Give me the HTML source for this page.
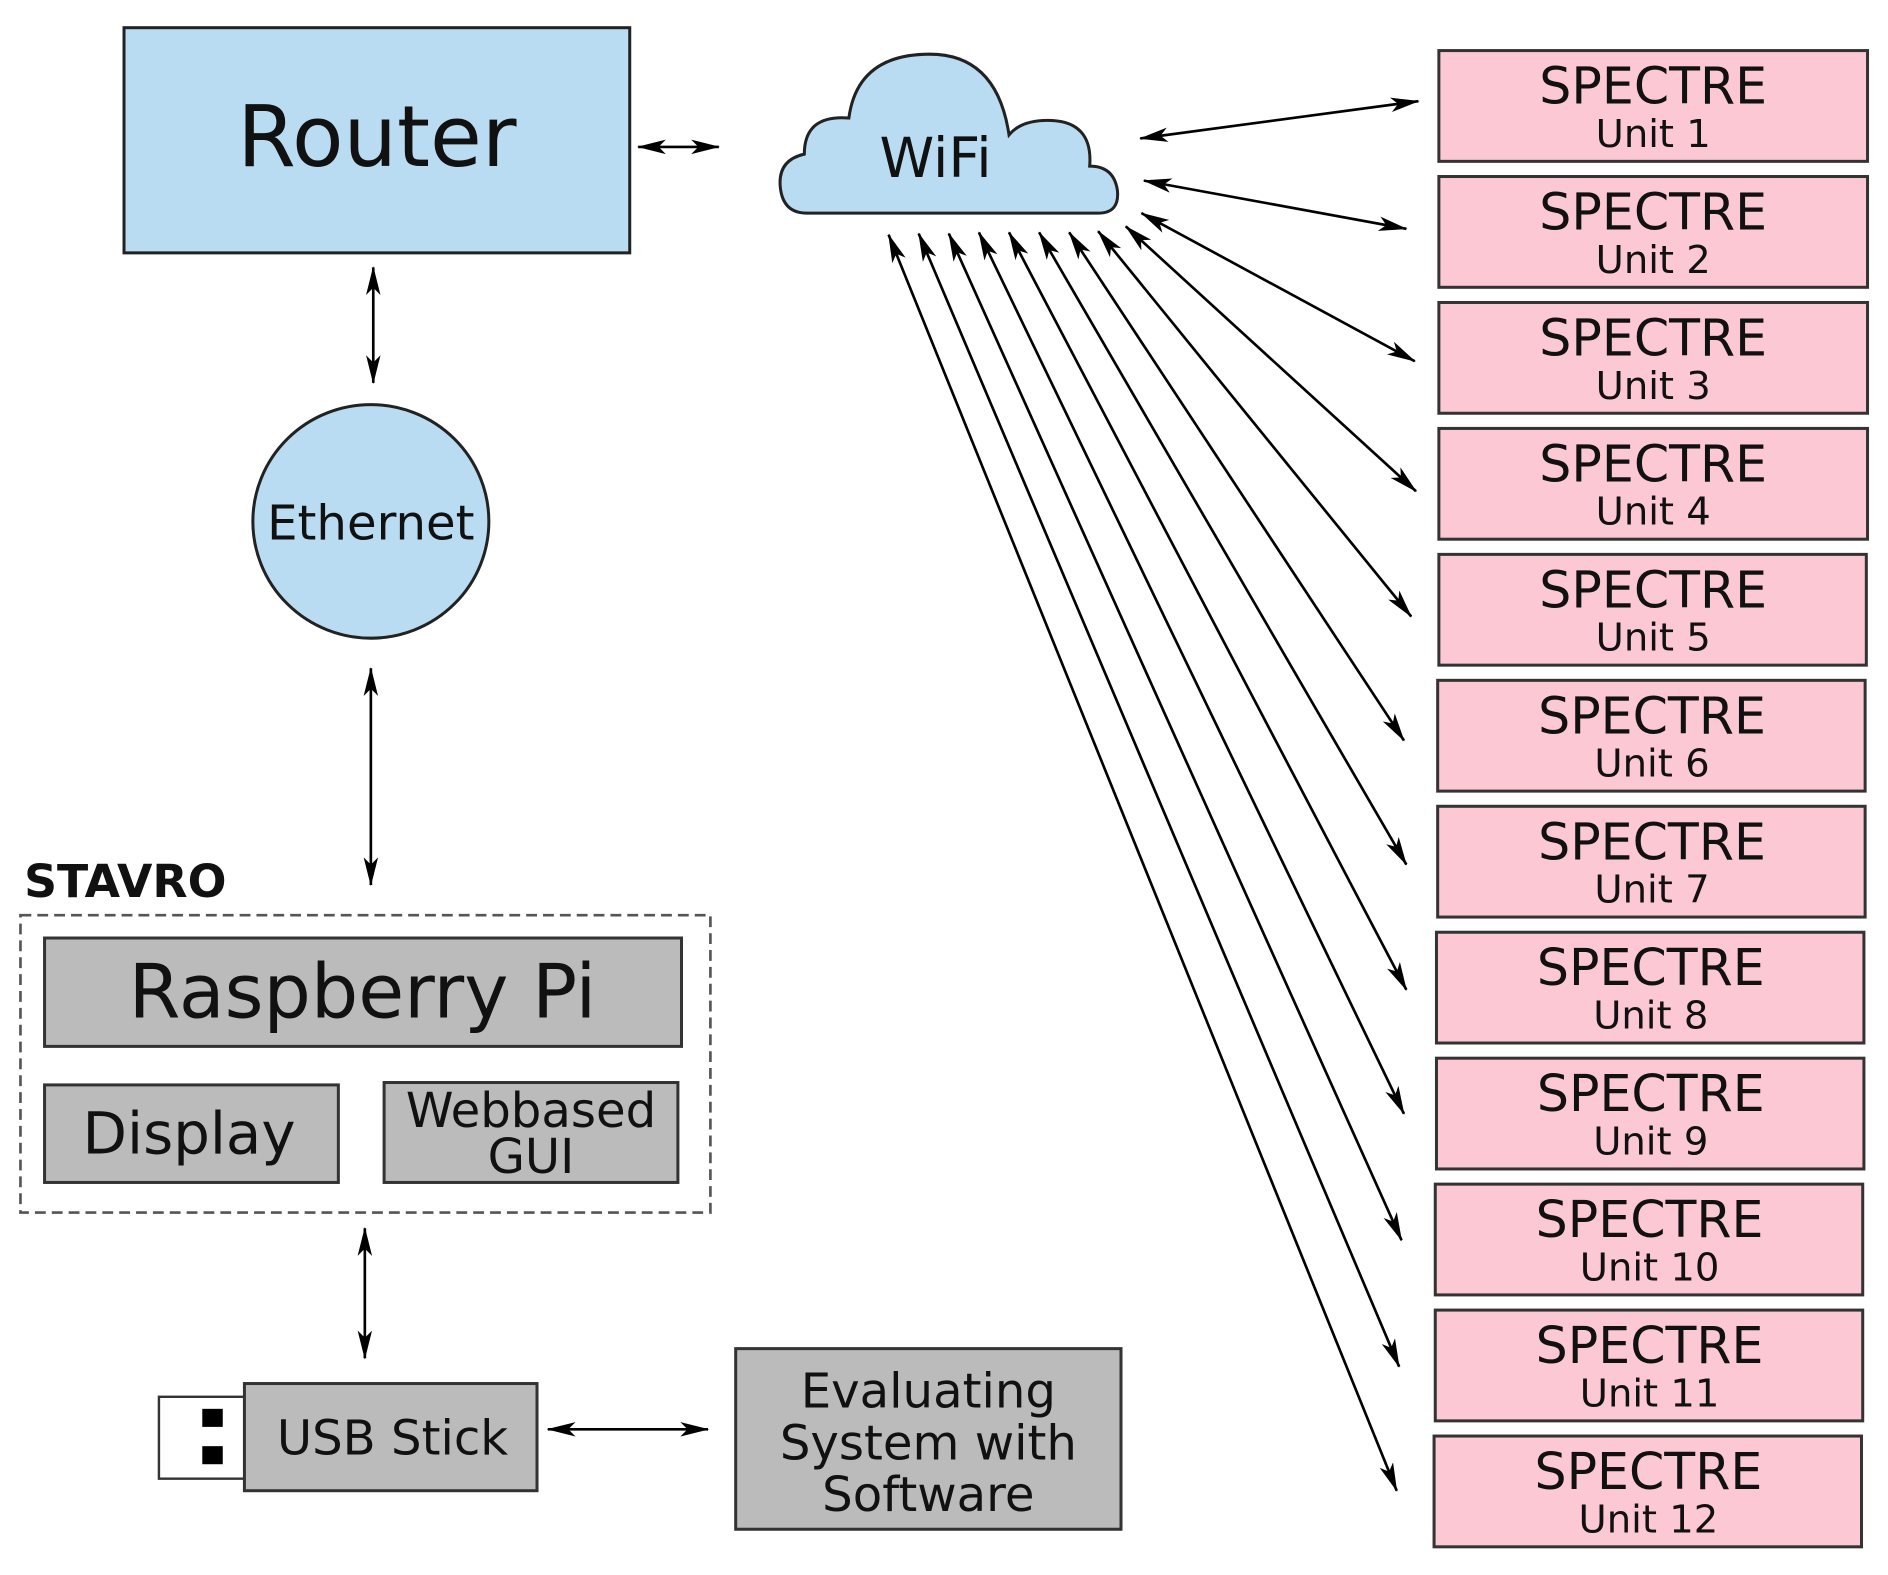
<!DOCTYPE html>
<html><head><meta charset="utf-8"><style>
html,body{margin:0;padding:0;background:#fff;}
svg{display:block;}
text{font-family:"DejaVu Sans","Liberation Sans",sans-serif;fill:#111;}
</style></head><body>
<svg width="1888" height="1575" viewBox="0 0 1568 1308" preserveAspectRatio="none" xmlns="http://www.w3.org/2000/svg">
<defs>
<marker id="a" viewBox="0 0 24 12" refX="23" refY="6" markerWidth="24" markerHeight="12" markerUnits="userSpaceOnUse" orient="auto-start-reverse">
<path d="M0,0 L24,6 L0,12 L6,6 Z" fill="#000"/>
</marker>
</defs>
<g stroke="#000" stroke-width="2.2" fill="none" marker-start="url(#a)" marker-end="url(#a)">
<line x1="530" y1="122" x2="597" y2="122"/>
<line x1="310" y1="222" x2="310" y2="318"/>
<line x1="308" y1="555" x2="308" y2="735"/>
<line x1="303" y1="1020" x2="303" y2="1128"/>
<line x1="455" y1="1187" x2="588" y2="1187"/>
<line x1="947" y1="115" x2="1178" y2="84"/>
<line x1="950" y1="150" x2="1168" y2="190"/>
<line x1="948" y1="177" x2="1175" y2="300"/>
<line x1="935" y1="188" x2="1176" y2="408"/>
<line x1="912" y1="192" x2="1172" y2="512"/>
<line x1="888" y1="193" x2="1166" y2="615"/>
<line x1="863" y1="193" x2="1168" y2="718"/>
<line x1="838" y1="193" x2="1168" y2="822"/>
<line x1="813" y1="193" x2="1166" y2="925"/>
<line x1="788" y1="194" x2="1164" y2="1030"/>
<line x1="763" y1="194" x2="1162" y2="1135"/>
<line x1="738" y1="195" x2="1160" y2="1238"/>
</g>
<rect x="103" y="23" width="420" height="187" fill="#b9dcf2" stroke="#222" stroke-width="2.5"/>
<text x="313" y="138" font-size="70" text-anchor="middle">Router</text>
<path d="M670,177 L912,177 Q930,177 928,158 Q925,138 905,138 Q908,100 870,100 Q848,100 838,112 Q828,45 772,45 Q712,45 705,98 Q668,95 668,128 Q646,133 648,155 Q650,177 670,177 Z" fill="#b9dcf2" stroke="#222" stroke-width="2.5"/>
<text x="777" y="147" font-size="46" text-anchor="middle">WiFi</text>
<ellipse cx="308" cy="433" rx="98" ry="97" fill="#b9dcf2" stroke="#222" stroke-width="2.5"/>
<text x="308" y="448" font-size="40" text-anchor="middle">Ethernet</text>
<text x="20" y="745" font-size="38" font-weight="bold">STAVRO</text>
<rect x="17" y="760" width="573" height="247" fill="none" stroke="#555" stroke-width="2.2" stroke-dasharray="9,5"/>
<rect x="37" y="779" width="529" height="90" fill="#bbb" stroke="#333" stroke-width="2.5"/>
<text x="301" y="845" font-size="62" text-anchor="middle">Raspberry Pi</text>
<rect x="37" y="901" width="244" height="81" fill="#bbb" stroke="#333" stroke-width="2.5"/>
<text x="157" y="958" font-size="48" text-anchor="middle">Display</text>
<rect x="319" y="899" width="244" height="83" fill="#bbb" stroke="#333" stroke-width="2.5"/>
<text x="441" y="936" font-size="40" text-anchor="middle">Webbased</text>
<text x="441" y="974" font-size="40" text-anchor="middle">GUI</text>
<rect x="132" y="1160" width="73" height="68" fill="#fff" stroke="#333" stroke-width="2"/>
<rect x="168" y="1170" width="17" height="15" fill="#000"/>
<rect x="168" y="1201" width="17" height="15" fill="#000"/>
<rect x="203" y="1149" width="243" height="89" fill="#bbb" stroke="#333" stroke-width="2.5"/>
<text x="326" y="1208" font-size="40" text-anchor="middle">USB Stick</text>
<rect x="611" y="1120" width="320" height="150" fill="#bbb" stroke="#333" stroke-width="2.5"/>
<text x="771" y="1169" font-size="40" text-anchor="middle">Evaluating</text>
<text x="771" y="1212" font-size="40" text-anchor="middle">System with</text>
<text x="771" y="1255" font-size="40" text-anchor="middle">Software</text>
<g font-size="42" text-anchor="middle">
<rect x="1195" y="42" width="356" height="92" fill="#fcc8d4" stroke="#333" stroke-width="2.5"/><text x="1373" y="86">SPECTRE</text><text x="1373" y="122" font-size="32">Unit 1</text>
<rect x="1195" y="146.6" width="356" height="92" fill="#fcc8d4" stroke="#333" stroke-width="2.5"/><text x="1373" y="190.6">SPECTRE</text><text x="1373" y="226.6" font-size="32">Unit 2</text>
<rect x="1195" y="251.2" width="356" height="92" fill="#fcc8d4" stroke="#333" stroke-width="2.5"/><text x="1373" y="295.2">SPECTRE</text><text x="1373" y="331.2" font-size="32">Unit 3</text>
<rect x="1195" y="355.8" width="356" height="92" fill="#fcc8d4" stroke="#333" stroke-width="2.5"/><text x="1373" y="399.8">SPECTRE</text><text x="1373" y="435.8" font-size="32">Unit 4</text>
<rect x="1195" y="460.4" width="355" height="92" fill="#fcc8d4" stroke="#333" stroke-width="2.5"/><text x="1373" y="504.4">SPECTRE</text><text x="1373" y="540.4" font-size="32">Unit 5</text>
<rect x="1194" y="565" width="355" height="92" fill="#fcc8d4" stroke="#333" stroke-width="2.5"/><text x="1372" y="609">SPECTRE</text><text x="1372" y="645" font-size="32">Unit 6</text>
<rect x="1194" y="669.6" width="355" height="92" fill="#fcc8d4" stroke="#333" stroke-width="2.5"/><text x="1372" y="713.6">SPECTRE</text><text x="1372" y="749.6" font-size="32">Unit 7</text>
<rect x="1193" y="774.2" width="355" height="92" fill="#fcc8d4" stroke="#333" stroke-width="2.5"/><text x="1371" y="818.2">SPECTRE</text><text x="1371" y="854.2" font-size="32">Unit 8</text>
<rect x="1193" y="878.8" width="355" height="92" fill="#fcc8d4" stroke="#333" stroke-width="2.5"/><text x="1371" y="922.8">SPECTRE</text><text x="1371" y="958.8" font-size="32">Unit 9</text>
<rect x="1192" y="983.4" width="355" height="92" fill="#fcc8d4" stroke="#333" stroke-width="2.5"/><text x="1370" y="1027.4">SPECTRE</text><text x="1370" y="1063.4" font-size="32">Unit 10</text>
<rect x="1192" y="1088" width="355" height="92" fill="#fcc8d4" stroke="#333" stroke-width="2.5"/><text x="1370" y="1132">SPECTRE</text><text x="1370" y="1168" font-size="32">Unit 11</text>
<rect x="1191" y="1192.6" width="355" height="92" fill="#fcc8d4" stroke="#333" stroke-width="2.5"/><text x="1369" y="1236.6">SPECTRE</text><text x="1369" y="1272.6" font-size="32">Unit 12</text>
</g>
</svg>
</body></html>
